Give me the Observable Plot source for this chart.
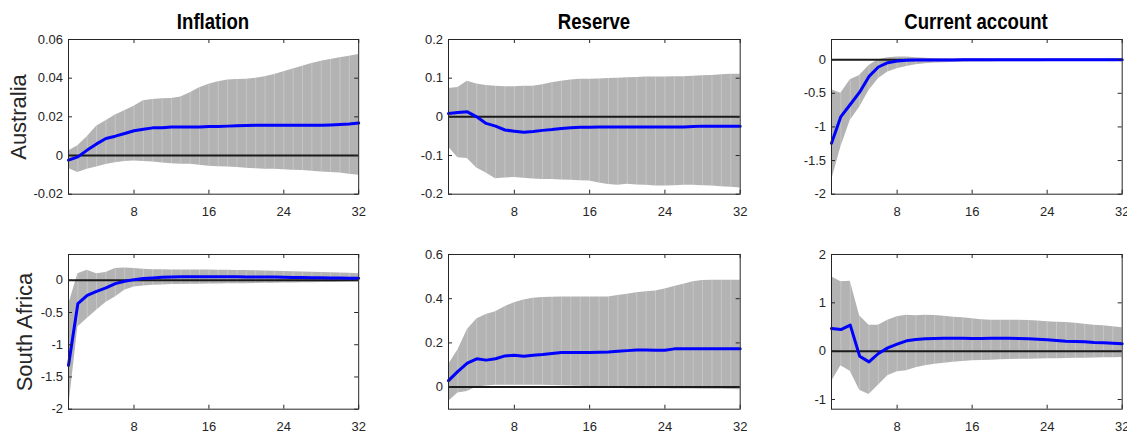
<!DOCTYPE html>
<html>
<head>
<meta charset="utf-8">
<script src="https://cdn.jsdelivr.net/npm/d3@7"></script>
<script src="https://cdn.jsdelivr.net/npm/@observablehq/plot@0.6"></script>
<style>
  html, body { margin: 0; padding: 0; background: #fff; }
  body { width: 1127px; height: 432px; position: relative; overflow: hidden;
         font-family: "Liberation Sans", Arial, Helvetica, sans-serif; }
  .panel { position: absolute; }
  .panel svg { display: block; max-width: none; overflow: visible; }
  .title { position: absolute; font-weight: bold; font-size: 22px; line-height: 22px;
           color: #000; white-space: nowrap; transform-origin: 50% 50%; }
  .rowlab { position: absolute; font-size: 22px; line-height: 22px; color: #262626;
            white-space: nowrap; transform-origin: 50% 50%; }
</style>
</head>
<body>
<script>
// ---------- data ----------
const horizon = d3.range(1, 33);            // quarters 1..32
const xTicks = [8, 16, 24, 32];
const columnTitles = ["Inflation", "Reserve", "Current account"];
const rowLabels = ["Australia", "South Africa"];

// Australia – Inflation
const auInflMid = [-0.0024,-0.0007,0.0028,0.006,0.0088,0.010,0.0114,0.0128,0.0136,0.0143,0.0143,0.0147,0.0148,0.0148,0.0148,0.015,0.015,0.0152,0.0154,0.0155,0.0156,0.0157,0.0157,0.0157,0.0157,0.0157,0.0156,0.0156,0.0158,0.016,0.0163,0.0168];
const auInflHi  = [0.0024,0.005,0.0097,0.0152,0.018,0.0209,0.0231,0.0255,0.0283,0.029,0.0293,0.0295,0.0303,0.0324,0.035,0.0369,0.0381,0.039,0.0393,0.0395,0.04,0.0407,0.0419,0.0433,0.0447,0.0462,0.0476,0.0488,0.0497,0.0505,0.0514,0.0522];
const auInflLo  = [-0.0067,-0.0088,-0.0071,-0.0059,-0.0047,-0.0038,-0.0031,-0.0028,-0.0031,-0.0034,-0.0039,-0.0043,-0.0045,-0.0045,-0.005,-0.0055,-0.0058,-0.0059,-0.0062,-0.0066,-0.0069,-0.0071,-0.0071,-0.0073,-0.0076,-0.0078,-0.0081,-0.0085,-0.0088,-0.0091,-0.0097,-0.0102];

// Australia – Reserve
const auResMid = [0.0086,0.011,0.013,0,-0.017,-0.024,-0.034,-0.037,-0.040,-0.038,-0.035,-0.033,-0.030,-0.028,-0.027,-0.027,-0.026,-0.026,-0.026,-0.026,-0.026,-0.026,-0.026,-0.026,-0.026,-0.026,-0.025,-0.024,-0.024,-0.024,-0.024,-0.024];
const auResHi  = [0.073,0.076,0.092,0.085,0.081,0.079,0.078,0.078,0.079,0.079,0.083,0.088,0.092,0.095,0.097,0.097,0.098,0.099,0.100,0.101,0.102,0.103,0.103,0.103,0.104,0.104,0.105,0.106,0.107,0.109,0.110,0.110];
const auResLo  = [-0.078,-0.106,-0.108,-0.132,-0.145,-0.160,-0.158,-0.157,-0.159,-0.161,-0.162,-0.162,-0.163,-0.164,-0.165,-0.166,-0.171,-0.175,-0.177,-0.174,-0.176,-0.177,-0.179,-0.179,-0.178,-0.177,-0.177,-0.178,-0.179,-0.181,-0.182,-0.184];

// Australia – Current account
const auCaMid = [-1.244,-0.846,-0.667,-0.483,-0.249,-0.109,-0.045,-0.020,-0.010,-0.005,-0.004,-0.003,-0.003,-0.003,-0.002,-0.002,-0.002,-0.002,-0.002,-0.002,-0.001,-0.001,-0.001,-0.001,-0.001,-0.001,-0.001,-0.001,-0.001,-0.001,-0.001,-0.001];
const auCaHi  = [-0.448,-0.50,-0.300,-0.234,-0.085,0.0,0.03,0.04,0.04,0.03,0.02,0.01,0.008,0.007,0.006,0.005,0.005,0.004,0.004,0.004,0.003,0.003,0.003,0.003,0.003,0.003,0.003,0.003,0.003,0.003,0.003,0.003];
const auCaLo  = [-1.80,-1.30,-0.905,-0.706,-0.458,-0.284,-0.184,-0.134,-0.10,-0.075,-0.06,-0.05,-0.045,-0.04,-0.038,-0.035,-0.034,-0.033,-0.032,-0.031,-0.030,-0.029,-0.029,-0.028,-0.028,-0.027,-0.027,-0.026,-0.026,-0.025,-0.025,-0.025];

// South Africa – Inflation
const saInflMid = [-1.318,-0.362,-0.233,-0.171,-0.119,-0.052,-0.016,0.010,0.026,0.036,0.047,0.052,0.053,0.054,0.054,0.054,0.054,0.053,0.053,0.052,0.051,0.050,0.049,0.047,0.045,0.043,0.041,0.039,0.037,0.035,0.033,0.031];
const saInflHi  = [-0.388,0.103,0.155,0.103,0.119,0.181,0.191,0.181,0.171,0.165,0.162,0.160,0.160,0.160,0.160,0.159,0.157,0.155,0.152,0.150,0.147,0.144,0.140,0.136,0.132,0.128,0.124,0.120,0.116,0.112,0.108,0.103];
const saInflLo  = [-2.0,-0.723,-0.594,-0.465,-0.346,-0.258,-0.155,-0.103,-0.088,-0.078,-0.072,-0.067,-0.064,-0.062,-0.060,-0.058,-0.056,-0.055,-0.054,-0.052,-0.050,-0.048,-0.046,-0.044,-0.042,-0.040,-0.038,-0.036,-0.033,-0.031,-0.028,-0.026];

// South Africa – Reserve
const saResMid = [0.029,0.071,0.108,0.128,0.122,0.128,0.141,0.144,0.140,0.144,0.147,0.152,0.156,0.156,0.156,0.156,0.158,0.159,0.162,0.165,0.168,0.168,0.167,0.167,0.173,0.174,0.173,0.173,0.173,0.173,0.173,0.173];
const saResHi  = [0.101,0.168,0.259,0.308,0.329,0.341,0.364,0.382,0.394,0.402,0.405,0.406,0.408,0.408,0.408,0.408,0.408,0.408,0.414,0.420,0.427,0.432,0.435,0.444,0.455,0.465,0.477,0.482,0.484,0.484,0.484,0.484];
const saResLo  = [-0.065,-0.027,-0.020,0.000,0.005,0.008,0.008,0.008,0.008,0.008,0.008,0.007,0.006,0.005,0.004,0.002,0.000,-0.003,-0.005,-0.007,-0.008,-0.008,-0.008,-0.008,-0.009,-0.009,-0.009,-0.010,-0.010,-0.010,-0.011,-0.012];

// South Africa – Current account
const saCaMid = [0.469,0.448,0.538,-0.103,-0.221,-0.048,0.069,0.145,0.214,0.241,0.255,0.262,0.269,0.267,0.265,0.264,0.264,0.266,0.268,0.269,0.262,0.255,0.248,0.234,0.220,0.207,0.200,0.193,0.179,0.172,0.166,0.152];
const saCaHi  = [1.538,1.434,1.448,0.731,0.538,0.538,0.641,0.710,0.745,0.731,0.745,0.738,0.724,0.703,0.690,0.669,0.648,0.640,0.640,0.640,0.640,0.635,0.625,0.607,0.600,0.593,0.576,0.559,0.538,0.524,0.503,0.483];
const saCaLo  = [-0.634,-0.303,-0.414,-0.807,-0.897,-0.703,-0.510,-0.428,-0.407,-0.345,-0.303,-0.269,-0.248,-0.228,-0.214,-0.200,-0.193,-0.186,-0.179,-0.172,-0.169,-0.166,-0.162,-0.159,-0.155,-0.152,-0.148,-0.145,-0.141,-0.138,-0.134,-0.131];

// y-axis domains and tick values per panel
const auInflTicks = [-0.02, 0, 0.02, 0.04, 0.06];
const auResTicks  = [-0.2, -0.1, 0, 0.1, 0.2];
const auCaTicks   = [-2, -1.5, -1, -0.5, 0];
const saInflTicks = [-2, -1.5, -1, -0.5, 0];
const saResTicks  = [0, 0.2, 0.4, 0.6];
const saCaTicks   = [-1, 0, 1, 2];
const auInflDomain = [-0.02, 0.06];
const auResDomain  = [-0.2, 0.2];
const auCaDomain   = [-2, 0.3];
const saInflDomain = [-2, 0.4];
const saResDomain  = [-0.1, 0.6];
const saCaDomain   = [-1.2, 2];

// ---------- layout ----------
const colLeft  = [67.5, 448.3, 831];
const colWidth = [290.2, 291.7, 290.7];
const rowTop   = [39.3, 254.3];
const plotH    = 154.7;

const panels = [
  {row:0, col:0, mid:auInflMid, hi:auInflHi, lo:auInflLo, domain:auInflDomain, ticks:auInflTicks},
  {row:0, col:1, mid:auResMid,  hi:auResHi,  lo:auResLo,  domain:auResDomain,  ticks:auResTicks},
  {row:0, col:2, mid:auCaMid,   hi:auCaHi,   lo:auCaLo,   domain:auCaDomain,   ticks:auCaTicks},
  {row:1, col:0, mid:saInflMid, hi:saInflHi, lo:saInflLo, domain:saInflDomain, ticks:saInflTicks},
  {row:1, col:1, mid:saResMid,  hi:saResHi,  lo:saResLo,  domain:saResDomain,  ticks:saResTicks},
  {row:1, col:2, mid:saCaMid,   hi:saCaHi,   lo:saCaLo,   domain:saCaDomain,   ticks:saCaTicks}
];

const axisColor = "#262626";
const tickLen = 4;
const mL = 50, mR = 14, mT = 6, mB = 30;

for (const p of panels) {
  const w = colWidth[p.col], h = plotH;
  const data = horizon.map((t, i) => ({t, mid: p.mid[i], lo: p.lo[i], hi: p.hi[i]}));
  const chart = Plot.plot({
    width: w + mL + mR,
    height: h + mT + mB,
    marginLeft: mL, marginRight: mR, marginTop: mT, marginBottom: mB,
    x: {domain: [1, 32]},
    y: {domain: p.domain},
    style: {fontFamily: '"Liberation Sans", Arial, sans-serif', fontSize: "13px",
            color: axisColor, background: "transparent", overflow: "visible"},
    marks: [
      Plot.areaY(data, {x: "t", y1: "lo", y2: "hi", fill: "#b3b3b3", curve: "linear"}),
      Plot.ruleX(data, {x: "t", y1: "lo", y2: "hi", stroke: "#ffffff", strokeOpacity: 0.25, strokeWidth: 1}),
      Plot.ruleY([0], {stroke: "#1a1a1a", strokeWidth: 2}),
      Plot.line(data, {x: "t", y: "mid", stroke: "#0000ff", strokeWidth: 3, curve: "linear"}),
      Plot.frame({stroke: axisColor, strokeWidth: 1}),
      // inward ticks on all four sides (MATLAB box style)
      Plot.ruleX(xTicks, {x: d => d, insetTop: h - tickLen, stroke: axisColor}),
      Plot.ruleX(xTicks, {x: d => d, insetBottom: h - tickLen, stroke: axisColor}),
      Plot.ruleY(p.ticks, {y: d => d, insetRight: w - tickLen, stroke: axisColor}),
      Plot.ruleY(p.ticks, {y: d => d, insetLeft: w - tickLen, stroke: axisColor}),
      Plot.axisX(xTicks, {tickSize: 0, tickPadding: 12.5, tickFormat: d => String(d), label: null}),
      Plot.axisY(p.ticks, {tickSize: 0, tickPadding: 5.5, tickFormat: d => String(d), label: null})
    ]
  });
  const div = document.createElement("div");
  div.className = "panel";
  div.style.left = (colLeft[p.col] - mL) + "px";
  div.style.top = (rowTop[p.row] - mT) + "px";
  div.style.width = (w + mL + mR) + "px";
  div.appendChild(chart);
  document.body.appendChild(div);
}

// column titles
columnTitles.forEach((t, c) => {
  const d = document.createElement("div");
  d.className = "title";
  d.textContent = t;
  d.style.left = (colLeft[c] + colWidth[c] / 2) + "px";
  d.style.top = "11.4px";
  d.style.transform = "translateX(-50%) scaleX(0.845)";
  document.body.appendChild(d);
});

// row labels
const rowLabelX = [19, 25];
rowLabels.forEach((t, r) => {
  const d = document.createElement("div");
  d.className = "rowlab";
  d.textContent = t;
  d.style.left = rowLabelX[r] + "px";
  d.style.top = (rowTop[r] + plotH / 2) + "px";
  d.style.transform = "translate(-50%, -50%) rotate(-90deg)";
  document.body.appendChild(d);
});
</script>
</body>
</html>
